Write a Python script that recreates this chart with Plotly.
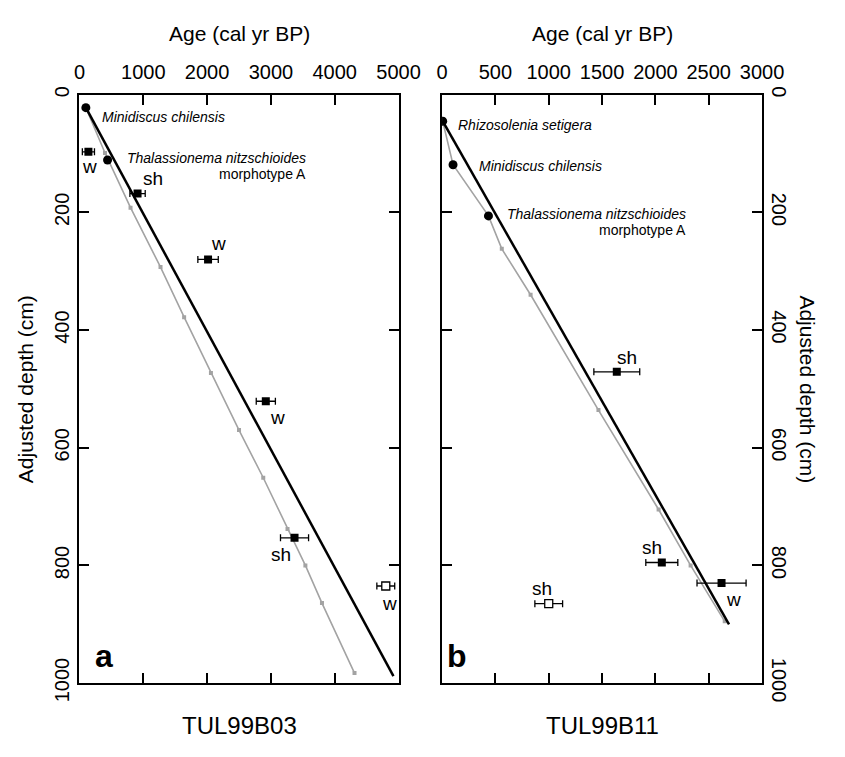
import plotly.graph_objects as go

# ---------------- data (age cal yr BP, adjusted depth cm) ----------------
# Panel a  TUL99B03
a_model_age = [100, 4920]
a_model_depth = [22, 988]
a_gray_age = [100, 400, 800, 1270, 1640, 2060, 2500, 2880, 3260, 3540, 3800, 4310]
a_gray_depth = [22, 99, 192, 293, 378, 473, 570, 651, 738, 800, 864, 983]
a_bio_names = ["Minidiscus chilensis", "Thalassionema nitzschioides"]
a_bio_age = [100, 440]
a_bio_depth = [22, 111]
a_date_age = [140, 910, 2015, 2920, 3370]
a_date_depth = [97, 168, 280, 521, 753]
a_date_err = [95, 120, 160, 150, 220]
a_date_lab = ["w", "sh", "w", "w", "sh"]
a_open_age = [4800]
a_open_depth = [835]
a_open_err = [140]
a_open_lab = ["w"]

# Panel b  TUL99B11
b_model_age = [6, 2690]
b_model_depth = [45, 900]
b_gray_age = [6, 103, 435, 560, 830, 1466, 2030, 2330, 2650]
b_gray_depth = [45, 119, 206, 262, 340, 536, 705, 800, 895]
b_bio_names = ["Rhizosolenia setigera", "Minidiscus chilensis", "Thalassionema nitzschioides"]
b_bio_age = [6, 103, 435]
b_bio_depth = [45, 119, 206]
b_date_age = [1638, 2060, 2620]
b_date_depth = [471, 795, 830]
b_date_err = [215, 150, 230]
b_date_lab = ["sh", "sh", "w"]
b_open_age = [1000]
b_open_depth = [865]
b_open_err = [130]
b_open_lab = ["sh"]

x_ticks_a = [0, 1000, 2000, 3000, 4000, 5000]
x_ticks_b = [0, 500, 1000, 1500, 2000, 2500, 3000]
y_ticks = [0, 200, 400, 600, 800, 1000]

FONT = "Arial, Liberation Sans, sans-serif"
W, H = 845, 757
GRAY = "#a3a3a3"

fig = go.Figure()


def add_panel(xa, ya, m_age, m_dep, g_age, g_dep, bio_age, bio_dep,
              d_age, d_dep, d_err, o_age, o_dep, o_err):
    fig.add_trace(go.Scatter(x=g_age, y=g_dep, mode="lines+markers", xaxis=xa, yaxis=ya,
                             line=dict(color=GRAY, width=1.6),
                             marker=dict(symbol="square", size=4, color=GRAY),
                             showlegend=False, hoverinfo="skip"))
    fig.add_trace(go.Scatter(x=m_age, y=m_dep, mode="lines", xaxis=xa, yaxis=ya,
                             line=dict(color="black", width=2.5),
                             showlegend=False, hoverinfo="skip"))
    fig.add_trace(go.Scatter(x=bio_age, y=bio_dep, mode="markers", xaxis=xa, yaxis=ya,
                             marker=dict(symbol="circle", size=9, color="black"),
                             showlegend=False, hoverinfo="skip"))
    fig.add_trace(go.Scatter(x=d_age, y=d_dep, mode="markers", xaxis=xa, yaxis=ya,
                             marker=dict(symbol="square", size=8, color="black"),
                             error_x=dict(type="data", array=d_err, color="black",
                                          thickness=1.3, width=3.5),
                             showlegend=False, hoverinfo="skip"))
    fig.add_trace(go.Scatter(x=o_age, y=o_dep, mode="markers", xaxis=xa, yaxis=ya,
                             marker=dict(symbol="square", size=8, color="white",
                                         line=dict(color="black", width=1.3)),
                             error_x=dict(type="data", array=o_err, color="black",
                                          thickness=1.3, width=3.5),
                             showlegend=False, hoverinfo="skip"))


add_panel("x", "y", a_model_age, a_model_depth, a_gray_age, a_gray_depth,
          a_bio_age, a_bio_depth, a_date_age, a_date_depth, a_date_err,
          a_open_age, a_open_depth, a_open_err)
add_panel("x2", "y2", b_model_age, b_model_depth, b_gray_age, b_gray_depth,
          b_bio_age, b_bio_depth, b_date_age, b_date_depth, b_date_err,
          b_open_age, b_open_depth, b_open_err)

ydom = [1 - 700 / H, 1 - 89 / H]
xdom_a = [76 / W, 406 / W]
xdom_b = [451 / W, 782 / W]

common_x = dict(side="top", ticks="inside", ticklen=10, tickwidth=2, tickcolor="black",
                showline=True, linewidth=2, linecolor="black", mirror="ticks",
                showgrid=False, zeroline=False, tickangle=0, ticklabelstandoff=6,
                tickfont=dict(family=FONT, size=20, color="black"), fixedrange=True)
common_y = dict(ticks="inside", ticklen=10, tickwidth=2, tickcolor="black",
                showline=True, linewidth=2, linecolor="black", mirror="ticks",
                showgrid=False, zeroline=False, range=[1000, 0],
                tickvals=y_ticks, tickfont=dict(family=FONT, size=20, color="black"),
                fixedrange=True)

fig.update_layout(
    width=W, height=H, margin=dict(l=0, r=0, t=0, b=0),
    paper_bgcolor="white", plot_bgcolor="white", showlegend=False,
    xaxis=dict(domain=xdom_a, range=[0, 5000], tickvals=x_ticks_a, anchor="y", **common_x),
    xaxis2=dict(domain=xdom_b, range=[0, 3000], tickvals=x_ticks_b, anchor="y2", **common_x),
    yaxis=dict(domain=ydom, anchor="x", side="left", tickangle=-90, **common_y),
    yaxis2=dict(domain=ydom, anchor="x2", side="right", tickangle=90, **common_y),
)

ann = []


def txt(text, x, y, xref, yref, size, xanchor="center", yanchor="middle", **kw):
    d = dict(text=text, x=x, y=y, xref=xref, yref=yref, showarrow=False,
             xanchor=xanchor, yanchor=yanchor,
             font=dict(family=FONT, size=size, color="black"))
    d.update(kw)
    ann.append(d)


# axis titles
txt("Age (cal yr BP)", (xdom_a[0] + xdom_a[1]) / 2, 1 - 25 / H, "paper", "paper", 21)
txt("Age (cal yr BP)", (xdom_b[0] + xdom_b[1]) / 2, 1 - 25 / H, "paper", "paper", 21)
txt("Adjusted depth (cm)", 21 / W, (ydom[0] + ydom[1]) / 2, "paper", "paper", 21, textangle=-90)
txt("Adjusted depth (cm)", 829 / W, (ydom[0] + ydom[1]) / 2, "paper", "paper", 21, textangle=90)
txt("TUL99B03", (xdom_a[0] + xdom_a[1]) / 2, 1 - 744 / H, "paper", "paper", 24)
txt("TUL99B11", (xdom_b[0] + xdom_b[1]) / 2, 1 - 744 / H, "paper", "paper", 24)
txt("<b>a</b>", 101 / W, 1 - 672 / H, "paper", "paper", 32)
txt("<b>b</b>", 466 / W, 1 - 672 / H, "paper", "paper", 32)

# species labels panel a
txt("<i>Minidiscus chilensis</i>", a_bio_age[0], a_bio_depth[0], "x", "y", 14,
    xanchor="left", xshift=14, yshift=-9)
txt("<i>Thalassionema nitzschioides</i>", a_bio_age[1], a_bio_depth[1], "x", "y", 14,
    xanchor="left", xshift=17, yshift=2)
txt("morphotype A", a_bio_age[1], a_bio_depth[1], "x", "y", 14,
    xanchor="right", xshift=17 + 183, yshift=-14)
# species labels panel b
txt("<i>Rhizosolenia setigera</i>", b_bio_age[0], b_bio_depth[0], "x2", "y2", 14,
    xanchor="left", xshift=13, yshift=-4)
txt("<i>Minidiscus chilensis</i>", b_bio_age[1], b_bio_depth[1], "x2", "y2", 14,
    xanchor="left", xshift=24, yshift=-1)
txt("<i>Thalassionema nitzschioides</i>", b_bio_age[2], b_bio_depth[2], "x2", "y2", 14,
    xanchor="left", xshift=17, yshift=2)
txt("morphotype A", b_bio_age[2], b_bio_depth[2], "x2", "y2", 14,
    xanchor="right", xshift=17 + 183, yshift=-14)

# date labels (offsets in px)
a_off = [(1, -15), (15, 15), (10, 16), (12, -16), (-14, -17)]
for lab, ag, dp, (dx, dy) in zip(a_date_lab, a_date_age, a_date_depth, a_off):
    txt(lab, ag, dp, "x", "y", 19, xshift=dx, yshift=dy)
for lab, ag, dp in zip(a_open_lab, a_open_age, a_open_depth):
    txt(lab, ag, dp, "x", "y", 19, xshift=4, yshift=-17)
b_off = [(10, 14), (-10, 15), (12, -16)]
for lab, ag, dp, (dx, dy) in zip(b_date_lab, b_date_age, b_date_depth, b_off):
    txt(lab, ag, dp, "x2", "y2", 19, xshift=dx, yshift=dy)
for lab, ag, dp in zip(b_open_lab, b_open_age, b_open_depth):
    txt(lab, ag, dp, "x2", "y2", 19, xshift=-7, yshift=15)

fig.update_layout(annotations=ann)
fig.write_html("out.html")
